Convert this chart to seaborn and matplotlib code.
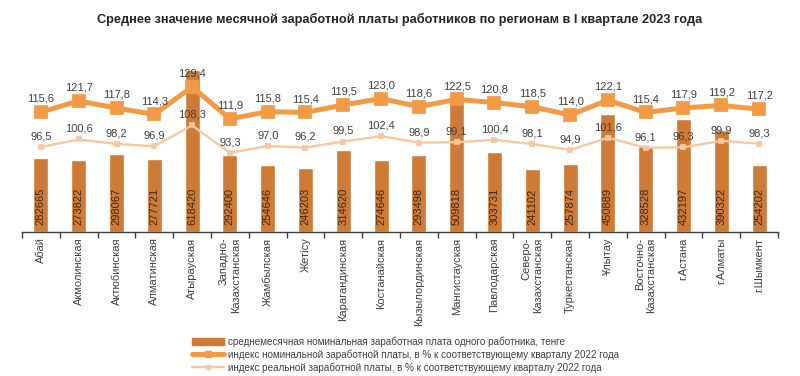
import matplotlib
matplotlib.use("Agg")
import matplotlib.pyplot as plt
import seaborn as sns
import pandas as pd
import numpy as np
from matplotlib.patches import Patch
from matplotlib.lines import Line2D

regions = ["Абай", "Акмолинская", "Актюбинская", "Алматинская", "Атырауская",
           "Западно-\nКазахстанская", "Жамбылская", "Жетісу", "Карагандинская",
           "Костанайская", "Кызылординская", "Мангистауская", "Павлодарская",
           "Северо-\nКазахстанская", "Туркестанская", "Ұлытау",
           "Восточно-\nКазахстанская", "г.Астана", "г.Алматы", "г.Шымкент"]
wage = [282665, 273822, 298067, 277721, 618420, 292400, 254646, 246203, 314620,
        274646, 293498, 509818, 303731, 241102, 257874, 450889, 328528, 432197,
        390322, 254202]
nominal_idx = [115.6, 121.7, 117.8, 114.3, 129.4, 111.9, 115.8, 115.4, 119.5, 123.0,
               118.6, 122.5, 120.8, 118.5, 114.0, 122.1, 115.4, 117.9, 119.2, 117.2]
real_idx = [96.5, 100.6, 98.2, 96.9, 108.3, 93.3, 97.0, 96.2, 99.5, 102.4,
            98.9, 99.1, 100.4, 98.1, 94.9, 101.6, 96.1, 96.3, 99.9, 98.3]

legend_labels = ["среднемесячная номинальная заработная плата одного работника, тенге",
                 "индекс номинальной заработной платы, в % к соответствующему кварталу 2022 года",
                 "индекс реальной заработной платы, в % к соответствующему кварталу 2022 года"]

sns.set_style("white")
plt.rcParams['font.family'] = ['Liberation Sans', 'DejaVu Sans']

bar_col = "#D07B35"
nom_col = "#F39A45"
real_col = "#F8C8A0"
txt_col = "#404040"

df = pd.DataFrame({"region": regions, "wage": wage,
                   "nominal": nominal_idx, "real": real_idx})

fig = plt.figure(figsize=(8, 3.76), dpi=100)
ax = fig.add_axes([0.0275, 0.383, 0.945, 0.457])

sns.barplot(data=df, x="region", y="wage", color=bar_col, width=0.4,
            saturation=1, ax=ax)
ax.set_ylim(0, 656000)

for i, v in enumerate(wage):
    ax.annotate(str(v), (i, 0), xytext=(0, 5), textcoords="offset points",
                rotation=90, ha="center", va="bottom", fontsize=8, color="#3a2a1a")

ax2 = ax.twinx()
sns.pointplot(data=df, x="region", y="nominal", color=nom_col, markers="s",
              markersize=6.5, linewidth=3.6, ax=ax2)
sns.pointplot(data=df, x="region", y="real", color=real_col, markers="s",
              markersize=3, linewidth=1.7, ax=ax2)
ax2.set_ylim(50, 144)

for i, v in enumerate(nominal_idx):
    ax2.annotate(f"{v:.1f}".replace(".", ","), (i, v), xytext=(0, 6),
                 textcoords="offset points", ha="center", va="bottom",
                 fontsize=8, color=txt_col)
for i, v in enumerate(real_idx):
    ax2.annotate(f"{v:.1f}".replace(".", ","), (i, v), xytext=(0, 4),
                 textcoords="offset points", ha="center", va="bottom",
                 fontsize=8, color=txt_col)

for a in (ax, ax2):
    a.set_xlabel("")
    a.set_ylabel("")
    a.set_yticks([])
    for s in ["top", "left", "right"]:
        a.spines[s].set_visible(False)
ax2.spines["bottom"].set_visible(False)
ax.spines["bottom"].set_color("#404040")
ax.spines["bottom"].set_linewidth(1.0)

# boundary ticks between categories, labels at centers (x axis is shared)
ax.set_xlim(-0.5, len(regions) - 0.5)
ax.set_xticks(np.arange(-0.5, len(regions), 1.0))
ax.set_xticklabels([])
ax.tick_params(axis="x", which="major", direction="out", length=4, width=1,
               color="#404040", bottom=True)
ax.set_xticks(np.arange(len(regions)), minor=True)
ax.set_xticklabels(regions, minor=True, rotation=90, ha="center", va="top",
                   multialignment="right", fontsize=8, color=txt_col)
ax.tick_params(axis="x", which="minor", length=0, pad=4, bottom=True)
ax2.tick_params(axis="x", which="both", bottom=False, labelbottom=False)

fig.suptitle("Среднее значение месячной заработной платы работников по регионам в I квартале 2023 года",
             x=0.5, y=0.965, fontsize=9.2, fontweight="bold", color="#262626")

handles = [Patch(facecolor=bar_col, edgecolor=bar_col),
           Line2D([0], [0], color=nom_col, lw=3.6, marker="s", markersize=5),
           Line2D([0], [0], color=real_col, lw=1.7, marker="s", markersize=3.5)]
fig.legend(handles, legend_labels, loc="upper left", bbox_to_anchor=(0.24, 0.105),
           frameon=False, fontsize=7.1, labelcolor=txt_col, handlelength=3.2,
           handletextpad=0.4, labelspacing=0.25, borderpad=0, borderaxespad=0)

fig.savefig("out.png", dpi=100)
